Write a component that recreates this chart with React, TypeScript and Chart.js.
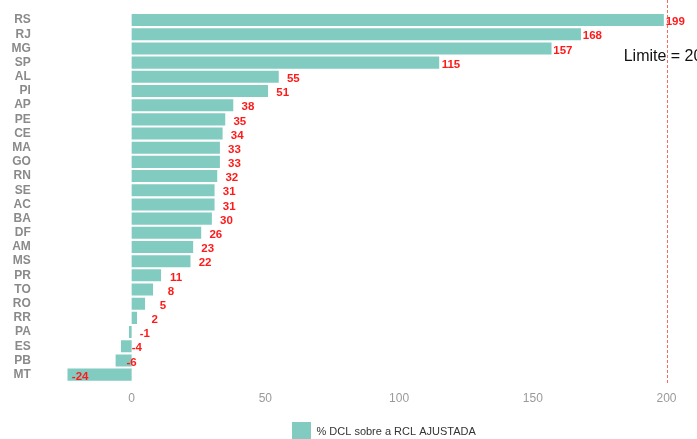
import React, { useEffect, useRef } from "react";
import { Chart, registerables } from "chart.js";

Chart.register(...registerables);

const categories = ["RS","RJ","MG","SP","AL","PI","AP","PE","CE","MA","GO","RN","SE","AC","BA","DF","AM","MS","PR","TO","RO","RR","PA","ES","PB","MT"];
const values = [199,168,157,115,55,51,38,35,34,33,33,32,31,31,30,26,23,22,11,8,5,2,-1,-4,-6,-24];
const xTicks = [0, 50, 100, 150, 200];
const seriesLabel = "% DCL sobre a RCL AJUSTADA";
const limitValue = 200;
const limitText = "Limite = 200";

const overlayPlugin = {
  id: "overlay",
  afterLayout(chart: any) {
    if (chart.legend) {
      chart.legend.left += 3;
      chart.legend.right += 3;
    }
  },
  afterDatasetsDraw(chart: any) {
    const { ctx, chartArea, scales } = chart;
    const xs = scales.x;
    const ys = scales.y;
    ctx.save();
    const lx = Math.round(xs.getPixelForValue(limitValue)) + 0.5;
    ctx.strokeStyle = "#f26a60";
    ctx.lineWidth = 1;
    ctx.setLineDash([3, 2]);
    ctx.beginPath();
    ctx.moveTo(lx, 0);
    ctx.lineTo(lx, chartArea.bottom + 2);
    ctx.stroke();
    ctx.setLineDash([]);
    ctx.fillStyle = "#111";
    ctx.font = "16px 'Liberation Sans', Arial, sans-serif";
    ctx.textAlign = "center";
    ctx.textBaseline = "middle";
    ctx.fillText(limitText, lx, 57);
    ctx.fillStyle = "#ff1a1a";
    ctx.font = "bold 11.5px 'Liberation Sans', Arial, sans-serif";
    ctx.textAlign = "right";
    values.forEach((v, i) => {
      const x = xs.getPixelForValue(v) + 21;
      const y = ys.getPixelForValue(i) + 2;
      ctx.fillText(String(v), x, y);
    });
    ctx.restore();
  },
};

export default function App() {
  const ref = useRef<HTMLCanvasElement | null>(null);
  useEffect(() => {
    if (!ref.current) return;
    const chart = new Chart(ref.current, {
      type: "bar",
      data: {
        labels: categories,
        datasets: [
          {
            label: seriesLabel,
            data: values,
            backgroundColor: "#82cbc1",
            borderWidth: 0,
            barPercentage: 0.85,
            categoryPercentage: 1,
          },
        ],
      },
      options: {
        indexAxis: "y",
        animation: false,
        responsive: false,
        maintainAspectRatio: false,
        layout: { padding: { top: 13, right: 0, bottom: -13, left: 0 } },
        scales: {
          x: {
            type: "linear",
            min: -25,
            max: 211.4,
            grid: { display: false },
            border: { display: false },
            afterBuildTicks: (scale: any) => {
              scale.ticks = xTicks.map((v) => ({ value: v }));
            },
            afterFit: (scale: any) => {
              scale.paddingLeft = 0;
              scale.paddingRight = 0;
            },
            ticks: {
              color: "#9a9a9a",
              padding: 1.5,
              font: { size: 12, family: "'Liberation Sans', Arial, sans-serif" },
            },
          },
          y: {
            grid: { display: false },
            border: { display: false },
            afterFit: (scale: any) => {
              scale.width = 64.8;
              scale.paddingTop = 0;
              scale.paddingBottom = 0;
            },
            ticks: {
              color: "#8a8a8a",
              padding: 26,
              autoSkip: false,
              font: { size: 12, weight: "bold", family: "'Liberation Sans', Arial, sans-serif" },
            },
          },
        },
        plugins: {
          legend: {
            position: "bottom",
            fullSize: false,
            labels: {
              boxWidth: 19,
              boxHeight: 20,
              padding: 14.9,
              color: "#333",
              font: { size: 11, family: "'Liberation Sans', Arial, sans-serif" },
            },
          },
          tooltip: { enabled: false },
        },
      },
      plugins: [overlayPlugin],
    });
    return () => chart.destroy();
  }, []);
  return (
    <div style={{ position: "absolute", left: 0, top: 0, width: 697, height: 439 }}>
      <canvas ref={ref} width={697} height={439} style={{ width: 697, height: 439 }} />
    </div>
  );
}
